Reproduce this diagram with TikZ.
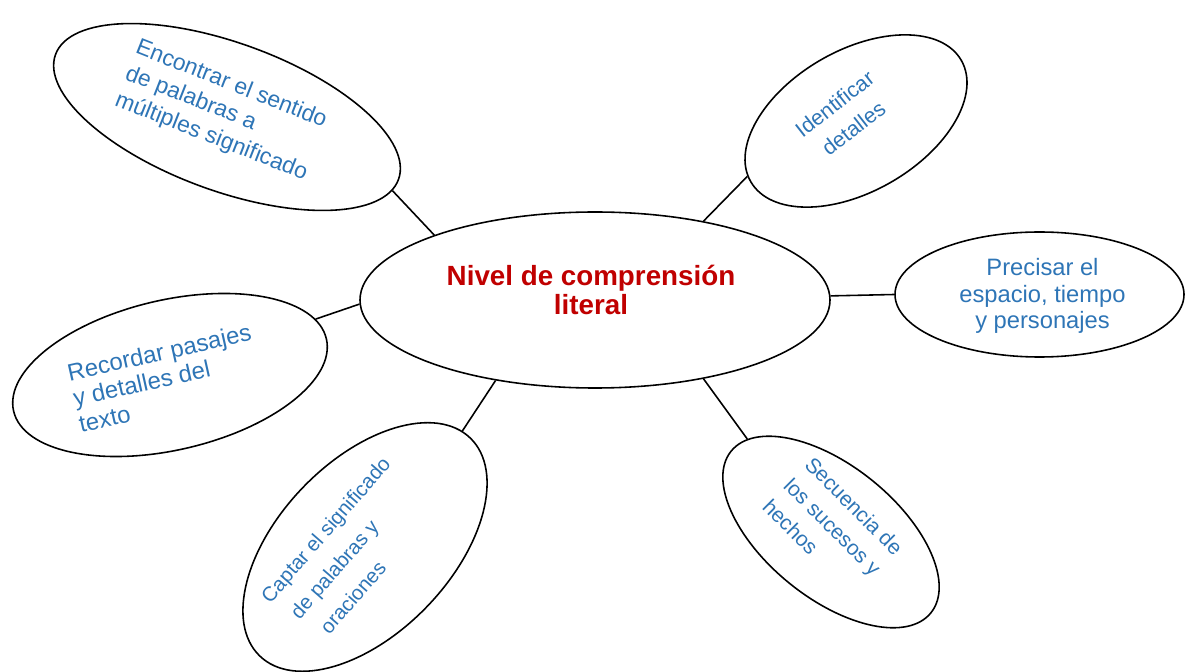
\documentclass[tikz,border=0pt]{standalone}
\usepackage{fontspec}
\setmainfont{Liberation Sans}
\usepackage{tikz}
\usetikzlibrary{shapes.geometric}
\definecolor{textblue}{RGB}{46,117,182}
\definecolor{titlered}{RGB}{192,0,0}

\begin{document}
\begin{tikzpicture}[
		bubble/.style={ellipse, draw, line width=0.9pt, inner sep=0pt},
		bubbletext/.style={text=textblue, inner sep=0pt},
		link/.style={line width=0.9pt}
	]
				\useasboundingbox (0,0) rectangle (23.7,13.42);
				
				% centre
				\node[bubble, minimum width=9.4cm, minimum height=3.52cm] (N) at (11.9,7.42) {};
				\node[text=titlered, inner sep=0pt, align=center, font=\bfseries\fontsize{15.8}{17}\selectfont] (Nt) at (11.82,7.62) {Nivel de comprensión\\literal};
				
				% satellites
				\node[bubble, rotate=-20, minimum width=7.3cm, minimum height=2.96cm] (E) at (4.54,11.08) {};
				\node[bubbletext, rotate=-21.5, align=left, font=\fontsize{13}{16}\selectfont] (Et) at (4.43,11.2) {Encontrar el sentido\\de palabras a\\múltiples significado};
				
				\node[bubble, rotate=30, minimum width=4.86cm, minimum height=2.82cm] (I) at (17.12,11.0) {};
				\node[bubbletext, rotate=38, align=center, font=\fontsize{12.2}{17.5}\selectfont] (It) at (16.88,11.1) {Identificar\\detalles};
				
				\node[bubble, minimum width=5.78cm, minimum height=2.5cm] (P) at (20.79,7.53) {};
				\node[bubbletext, align=center, font=\fontsize{13.5}{15}\selectfont] (Pt) at (20.85,7.5) {Precisar el\\espacio, tiempo\\y personajes};
				
				\node[bubble, rotate=-39, minimum width=5.14cm, minimum height=2.64cm] (S) at (16.62,2.78) {};
				\node[bubbletext, rotate=-45, align=left, font=\fontsize{12}{17}\selectfont] (St) at (16.66,2.88) {Secuencia de\\los sucesos y\\hechos};
				
				\node[bubble, rotate=46, minimum width=6.06cm, minimum height=3.44cm] (Ca) at (7.3,2.48) {};
				\node[bubbletext, rotate=49, align=left, font=\fontsize{11.6}{18.5}\selectfont] (Cat) at (7.0,2.4) {Captar el significado\\\hspace*{4pt}de palabras y\\\hspace*{8.5pt}oraciones};
				
				\node[bubble, rotate=13, minimum width=6.42cm, minimum height=3.0cm] (R) at (3.4,5.92) {};
				\node[bubbletext, rotate=12.6, align=left, font=\fontsize{13.6}{15}\selectfont] (Rt) at (3.3,5.86) {Recordar pasajes\\y detalles del\\texto};
				
				% links
				\draw[link] (N.158) -- (E.356);
				\draw[link] (N.36) -- (I.177);
				\draw[link] (N.1) -- (P.180);
				\draw[link] (N.324) -- (S.171);
				\draw[link] (N.219) -- (Ca.4);
				\draw[link] (N.181) -- (R.8);
			\end{tikzpicture}
\end{document}
